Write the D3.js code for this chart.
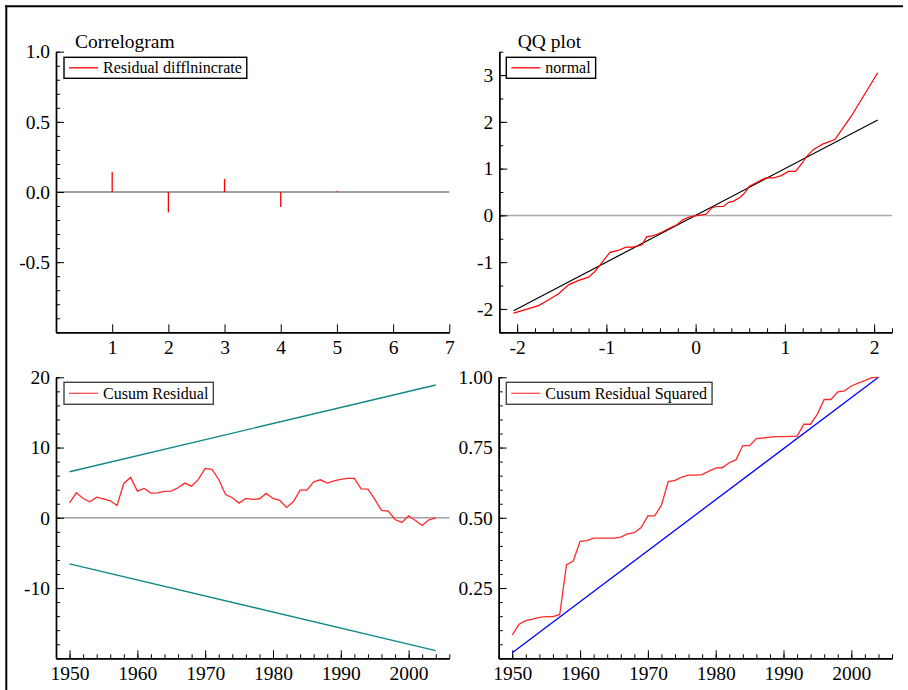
<!DOCTYPE html>
<html>
<head>
<meta charset="utf-8">
<script src="https://cdn.jsdelivr.net/npm/d3@7"></script>
<style>
  html, body { margin: 0; padding: 0; background: #fff; }
  svg { display: block; }
  svg text { font-family: "Liberation Serif", "Times New Roman", serif; fill: #000; }
</style>
</head>
<body>
<script>
// ---------------- data ----------------
const acfLags = [1, 2, 3, 4, 5];
const acfValues = [0.143, -0.145, 0.093, -0.107, 0.006];
const acfXTicks = [1, 2, 3, 4, 5, 6, 7];
const acfYTicks = [-0.5, 0, 0.5, 1];

const qqTheoretical = [-2.04, -1.76, -1.65, -1.54, -1.42, -1.31, -1.20, -1.13, -1.07, -1.01, -0.96, -0.87, -0.78, -0.70, -0.60, -0.55, -0.49, -0.44, -0.38, -0.31, -0.21, -0.14, -0.08, -0.01, 0.07, 0.12, 0.18, 0.23, 0.31, 0.37, 0.42, 0.50, 0.55, 0.60, 0.66, 0.74, 0.79, 0.87, 0.96, 1.04, 1.12, 1.19, 1.24, 1.32, 1.43, 1.56, 1.74, 2.04];
const qqSample = [-2.09, -1.93, -1.81, -1.68, -1.48, -1.39, -1.32, -1.20, -1.06, -0.91, -0.79, -0.75, -0.68, -0.68, -0.63, -0.46, -0.44, -0.41, -0.36, -0.29, -0.20, -0.09, -0.04, -0.01, 0.01, 0.03, 0.16, 0.19, 0.19, 0.28, 0.30, 0.39, 0.48, 0.62, 0.68, 0.76, 0.80, 0.80, 0.85, 0.94, 0.94, 1.11, 1.25, 1.41, 1.53, 1.62, 2.11, 3.05];
const qqRefLine = [-2.04, 2.04];
const qqXTicks = [-2, -1, 0, 1, 2];
const qqYTicks = [-2, -1, 0, 1, 2, 3];

const years = [1950, 1951, 1952, 1953, 1954, 1955, 1956, 1957, 1958, 1959,
               1960, 1961, 1962, 1963, 1964, 1965, 1966, 1967, 1968, 1969,
               1970, 1971, 1972, 1973, 1974, 1975, 1976, 1977, 1978, 1979,
               1980, 1981, 1982, 1983, 1984, 1985, 1986, 1987, 1988, 1989,
               1990, 1991, 1992, 1993, 1994, 1995, 1996, 1997, 1998, 1999,
               2000, 2001, 2002, 2003, 2004];
const cusum = [2.14, 3.56, 2.75, 2.28, 2.94, 2.71, 2.42, 1.76, 4.89, 5.75,
               3.80, 4.18, 3.51, 3.56, 3.75, 3.80, 4.27, 4.94, 4.51, 5.46,
               7.03, 6.89, 5.46, 3.32, 2.85, 2.09, 2.75, 2.61, 2.71, 3.47,
               2.75, 2.47, 1.47, 2.28, 3.94, 3.94, 5.13, 5.41, 4.94, 5.27,
               5.46, 5.60, 5.60, 4.13, 4.08, 2.66, 1.04, 0.95, -0.24, -0.66,
               0.28, -0.38, -1.09, -0.28, 0.0];
const boundYears = [1950, 2004];
const cusumUpper = [6.55, 18.9];
const cusumLower = [-6.55, -18.9];
const cusumYTicks = [-10, 0, 10, 20];

const cusumSq = [0.083, 0.121, 0.134, 0.139, 0.146, 0.148, 0.148, 0.156, 0.333, 0.346,
                 0.416, 0.419, 0.428, 0.428, 0.428, 0.428, 0.431, 0.443, 0.447, 0.465,
                 0.507, 0.507, 0.545, 0.629, 0.633, 0.645, 0.652, 0.652, 0.654, 0.666,
                 0.677, 0.679, 0.696, 0.707, 0.757, 0.757, 0.782, 0.784, 0.787, 0.789,
                 0.789, 0.790, 0.790, 0.833, 0.833, 0.869, 0.921, 0.921, 0.948, 0.952,
                 0.969, 0.979, 0.988, 0.999, 1.0];
const cusumSqExpected = [0.02, 1.0];
const cusumSqYTicks = [0.25, 0.5, 0.75, 1.0];
const yearTicks = [1950, 1960, 1970, 1980, 1990, 2000];

// ---------------- drawing ----------------
const W = 908, H = 690;
const FS = 19.5, LFS = 16;
const SERIF = '"Liberation Serif", "Times New Roman", serif';
const svg = d3.select("body").append("svg").attr("width", W).attr("height", H)
  .attr("font-family", SERIF);

// outer frame (top and left edges)
svg.append("line").attr("x1", 5.3).attr("x2", 903).attr("y1", 6.3).attr("y2", 6.3)
  .attr("stroke", "#000").attr("stroke-width", 2);
svg.append("line").attr("x1", 6.3).attr("x2", 6.3).attr("y1", 5.3).attr("y2", H)
  .attr("stroke", "#000").attr("stroke-width", 2);

function styleAxis(g) {
  g.attr("font-family", SERIF).attr("font-size", FS);
  g.select(".domain").attr("stroke", "#000").attr("stroke-width", 1.4);
  g.selectAll(".tick line").attr("stroke", "#000").attr("stroke-width", 1);
  g.selectAll(".tick text").attr("font-family", SERIF).attr("font-size", FS)
    .attr("fill", "#000");
}

function drawAxes(x, y, xMajor, xMinor, xFmt, yMajor, yMinor, yFmt) {
  const x0 = x.range()[0], yB = y.range()[0];
  const gyMin = svg.append("g").attr("transform", `translate(${x0},0)`)
    .call(d3.axisLeft(y).tickValues(yMinor).tickSize(-4).tickSizeOuter(0).tickFormat(""));
  styleAxis(gyMin);
  const gxMin = svg.append("g").attr("transform", `translate(0,${yB})`)
    .call(d3.axisBottom(x).tickValues(xMinor).tickSize(-4).tickSizeOuter(0).tickFormat(""));
  styleAxis(gxMin);
  const gy = svg.append("g").attr("transform", `translate(${x0},0)`)
    .call(d3.axisLeft(y).tickValues(yMajor).tickSize(-8).tickSizeOuter(0).tickPadding(6).tickFormat(yFmt));
  styleAxis(gy);
  const gx = svg.append("g").attr("transform", `translate(0,${yB})`)
    .call(d3.axisBottom(x).tickValues(xMajor).tickSize(-8).tickSizeOuter(0).tickPadding(8).tickFormat(xFmt));
  styleAxis(gx);
}

function zeroLine(x, y, color) {
  svg.append("line").attr("x1", x.range()[0]).attr("x2", x.range()[1])
    .attr("y1", y(0)).attr("y2", y(0))
    .attr("stroke", color).attr("stroke-width", 1.5);
}

function legend(x0, y0, h, label, lineColor, boxColor) {
  const g = svg.append("g");
  const rect = g.append("rect").attr("x", x0).attr("y", y0).attr("height", h)
    .attr("fill", "#fff").attr("stroke", boxColor).attr("stroke-width", 1.4);
  g.append("line").attr("x1", x0 + 5).attr("x2", x0 + 34)
    .attr("y1", y0 + h / 2).attr("y2", y0 + h / 2)
    .attr("stroke", lineColor).attr("stroke-width", 1.3);
  const t = g.append("text").attr("x", x0 + 39).attr("y", y0 + h / 2 + 5.4)
    .attr("font-family", SERIF).attr("font-size", LFS).text(label);
  const tw = t.node().getComputedTextLength();
  rect.attr("width", 39 + tw + 5);
}

function title(xp, yp, s) {
  svg.append("text").attr("x", xp).attr("y", yp)
    .attr("font-family", SERIF).attr("font-size", FS).text(s);
}

const hyph = d => String(d).replace("\u2212", "-");

// ---- Panel 1: Correlogram ----
{
  const x = d3.scaleLinear().domain([0, 7]).range([56, 449.3]);
  const y = d3.scaleLinear().domain([-1, 1]).range([332.3, 51.7]);
  zeroLine(x, y, "#808080");
  drawAxes(x, y, acfXTicks, [], d => String(d),
    acfYTicks, d3.range(-10, 11).map(v => v / 10), d => d.toFixed(1));
  svg.append("g").selectAll("line").data(acfLags).join("line")
    .attr("x1", (d) => x(d)).attr("x2", (d) => x(d))
    .attr("y1", y(0)).attr("y2", (d, i) => y(acfValues[i]))
    .attr("stroke", "#ff0000").attr("stroke-width", 1.3);
  title(75, 48, "Correlogram");
  legend(64, 57.3, 21, "Residual difflnincrate", "#ff0000", "#000");
}

// ---- Panel 2: QQ plot ----
{
  const x = d3.scaleLinear().domain([-2.2, 2.2]).range([499.3, 892]);
  const y = d3.scaleLinear().domain([-2.5, 3.5]).range([332.3, 51.7]);
  zeroLine(x, y, "#aaaaaa");
  drawAxes(x, y, qqXTicks, d3.range(-11, 12).map(v => v / 5), hyph,
    qqYTicks, d3.range(-5, 8).map(v => v / 2), hyph);
  svg.append("path").datum(qqRefLine)
    .attr("d", d3.line().x(d => x(d)).y(d => y(d)))
    .attr("fill", "none").attr("stroke", "#000").attr("stroke-width", 1.2);
  svg.append("path").datum(qqTheoretical.map((t, i) => [t, qqSample[i]]))
    .attr("d", d3.line().x(d => x(d[0])).y(d => y(d[1])))
    .attr("fill", "none").attr("stroke", "#ff0000").attr("stroke-width", 1.2);
  title(517.7, 48, "QQ plot");
  legend(506.3, 57.3, 21, "normal", "#ff0000", "#000");
}

// ---- Panel 3: Cusum Residual ----
{
  const x = d3.scaleLinear().domain([1948, 2006]).range([56, 449.3]);
  const y = d3.scaleLinear().domain([-20, 20]).range([658.3, 377.3]);
  zeroLine(x, y, "#a0a0a0");
  drawAxes(x, y, yearTicks, d3.range(1948, 2007, 2), d => String(d),
    cusumYTicks, d3.range(-20, 21, 2), hyph);
  const bl = d3.line().x((d, i) => x(boundYears[i])).y(d => y(d));
  svg.append("path").datum(cusumUpper).attr("d", bl)
    .attr("fill", "none").attr("stroke", "#118888").attr("stroke-width", 1.4);
  svg.append("path").datum(cusumLower).attr("d", bl)
    .attr("fill", "none").attr("stroke", "#118888").attr("stroke-width", 1.4);
  svg.append("path").datum(cusum)
    .attr("d", d3.line().x((d, i) => x(years[i])).y(d => y(d)))
    .attr("fill", "none").attr("stroke", "#ff2a2a").attr("stroke-width", 1.3);
  legend(64, 382.3, 22, "Cusum Residual", "#ff5050", "#444");
}

// ---- Panel 4: Cusum Residual Squared ----
{
  const x = d3.scaleLinear().domain([1948, 2006]).range([498.7, 892]);
  const y = d3.scaleLinear().domain([0, 1]).range([658.3, 377.3]);
  drawAxes(x, y, yearTicks, d3.range(1948, 2007, 2), d => String(d),
    cusumSqYTicks, d3.range(0, 21).map(v => v / 20), d => d.toFixed(2));
  svg.append("path").datum(cusumSqExpected)
    .attr("d", d3.line().x((d, i) => x(boundYears[i])).y(d => y(d)))
    .attr("fill", "none").attr("stroke", "#0000ff").attr("stroke-width", 1.3);
  svg.append("path").datum(cusumSq)
    .attr("d", d3.line().x((d, i) => x(years[i])).y(d => y(d)))
    .attr("fill", "none").attr("stroke", "#ff2a2a").attr("stroke-width", 1.3);
  legend(506.3, 382.3, 22, "Cusum Residual Squared", "#ff5050", "#444");
}
</script>
</body>
</html>
